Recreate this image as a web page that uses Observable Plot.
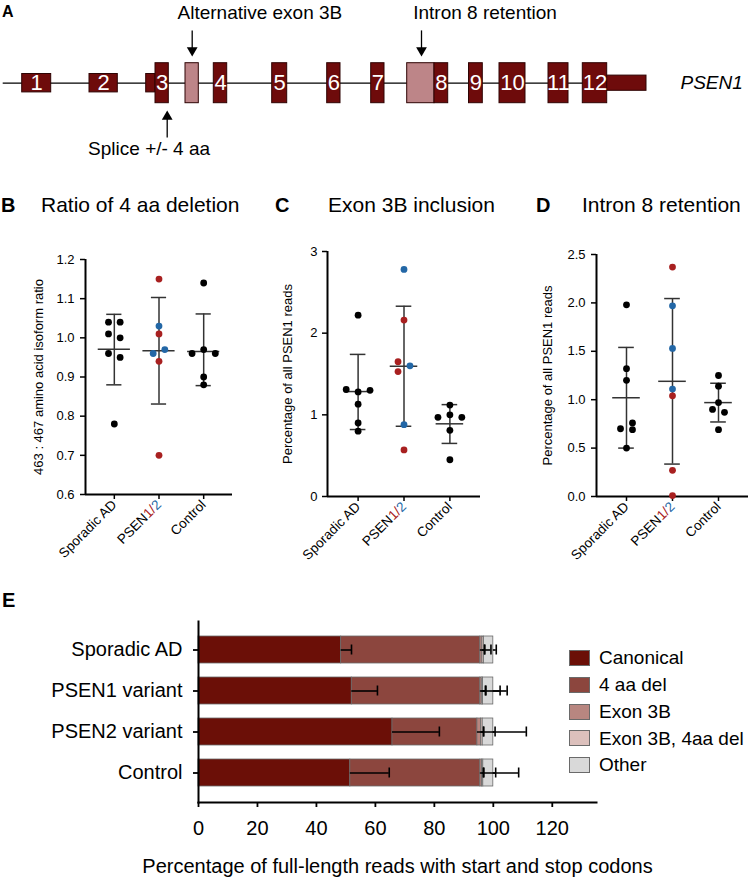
<!DOCTYPE html>
<html><head><meta charset="utf-8">
<script src="https://cdn.jsdelivr.net/npm/d3@7"></script>
<script src="https://cdn.jsdelivr.net/npm/@observablehq/plot@0.6"></script>
<style>
body{margin:0;background:#fff;font-family:"Liberation Sans",Arial,Helvetica,sans-serif;}
#fig{position:relative;width:750px;height:879px;overflow:hidden;background:#fff;}
.lbl{position:absolute;white-space:nowrap;line-height:1;color:#000;}
</style></head><body><div id="fig"></div>
<script>
const FONT = "'Liberation Sans', Arial, Helvetica, sans-serif";

// ---------- Panel A: PSEN1 gene schematic ----------
const exonLabel = ["1","2","","3","","4","5","6","7","","8","9","10","11","12",""];
const exonStart = [21.7,89,145.7,155,185,213.3,271.7,326.7,370.7,406.7,434,468.5,499,548,582.3,606.7];
const exonEnd   = [50.7,117.3,155,168.3,198.3,226.7,286.7,340,384,434,447.7,482.3,525,568,606.7,646];
const exonKind  = ["short","short","short","tall","alt","tall","tall","tall","tall","alt","tall","tall","tall","tall","tall","utr"];
const geneName = "PSEN1";
const annoText = ["Alternative exon 3B","Intron 8 retention","Splice +/- 4 aa"];
const annoArrowX = [191.7, 421, 166.7];
const annoTextX = [177, 412.7, 87.6];
const annoDir = ["down","down","up"];

// ---------- Panels B-D: per-sample values ----------
const groups = ["Sporadic AD","PSEN1/2","Control"];

const ratioValue = [1.04,1.04,1.01,1.00,0.96,0.95,0.78, 1.15,1.03,1.01,0.97,0.96,0.94,0.70, 1.14,0.97,0.96,0.96,0.90,0.88];
const ratioGroup = [0,0,0,0,0,0,0, 1,1,1,1,1,1,1, 2,2,2,2,2,2];
const ratioGene  = ["k","k","k","k","k","k","k", "r","b","r","b","b","r","r", "k","k","k","k","k","k"];
const ratioLane  = [-1,1,-1,1,-1,1,0, 0,0,0,1,-1,0,0, 0,0,-2,2,0,0];
const ratioMean = [0.971,0.967,0.965];
const ratioLow  = [0.880,0.831,0.878];
const ratioHigh = [1.060,1.103,1.061];

const exon3bValue = [2.22,1.31,1.30,1.28,1.13,0.90,0.80, 2.78,2.16,1.65,1.60,1.53,0.88,0.57, 1.12,1.00,0.97,0.97,0.81,0.45];
const exon3bGroup = [0,0,0,0,0,0,0, 1,1,1,1,1,1,1, 2,2,2,2,2,2];
const exon3bGene  = ["k","k","k","k","k","k","k", "b","r","r","b","r","b","r", "k","k","k","k","k","k"];
const exon3bLane  = [0,-2,2,0,0,0,0, 0,0,-1,1,-1,0,0, 0,0,-2,2,0,0];
const exon3bMean = [1.285,1.595,0.89];
const exon3bLow  = [0.82,0.86,0.65];
const exon3bHigh = [1.74,2.33,1.125];

const intronValue = [1.98,1.32,1.20,0.76,0.70,0.69,0.50, 2.37,1.97,1.53,1.11,1.04,0.27,0.01, 1.25,1.14,0.97,0.90,0.87,0.69];
const intronGroup = [0,0,0,0,0,0,0, 1,1,1,1,1,1,1, 2,2,2,2,2,2];
const intronGene  = ["k","k","k","k","k","k","k", "r","b","b","b","r","r","r", "k","k","k","k","k","k"];
const intronLane  = [0,0,0,1,-1,1,0, 0,0,0,0,0,0,0, 0,0,0,-1,1,0];
const intronMean = [1.02,1.19,0.97];
const intronLow  = [0.50,0.335,0.77];
const intronHigh = [1.54,2.045,1.17];

// ---------- Panel E: isoform shares ----------
const barGroups = ["Sporadic AD","PSEN1 variant","PSEN2 variant","Control"];
const isoforms = ["Canonical","4 aa del","Exon 3B","Exon 3B, 4aa del","Other"];
const canonical   = [48.4, 52.0, 65.8, 51.5];
const del4        = [47.2, 43.6, 28.8, 44.1];
const exon3B      = [0.7, 0.5, 1.2, 0.6];
const exon3Bdel   = [0.5, 0.4, 0.6, 0.4];
const other       = [3.2, 3.5, 3.6, 3.4];
const canonicalSd = [3.5, 8.7, 15.9, 13.2];
const del4Sd      = [3.6, 9.1, 16.6, 13.0];
const exon3BSd    = [0.7, 1.2, 0.9, 0.4];
const exon3BdelSd = [0.3, 1.0, 0.3, 0.2];
const otherSd     = [1.0, 2.3, 0.6, 0.8];

// ---------- styles ----------
const geneColor = {k:"#000000", r:"#a82020", b:"#2367a6"};
const isoColors = ["#6b0f07","#8c463e","#b88680","#dcc0bc","#d9d9d9"];
const exonHalf = {tall:1, alt:1, short:0.46, utr:0.38};
const exonFill = {tall:"#6e0b0b", short:"#6e0b0b", utr:"#6e0b0b", alt:"#bd8588"};

const fig = document.getElementById("fig");
function place(node, left, top){ node.style.position="absolute"; node.style.left=left+"px"; node.style.top=top+"px"; fig.appendChild(node); }
function label(text, left, top, size, weight){ const d=document.createElement("div"); d.className="lbl"; d.textContent=text; d.style.left=left+"px"; d.style.top=top+"px"; d.style.fontSize=size+"px"; d.style.fontWeight=weight||"normal"; fig.appendChild(d); return d; }

// ---------- Panel A ----------
{
  const exons = exonStart.map((s,i)=>({s, e: exonEnd[i], k: exonKind[i], t: exonLabel[i]}));
  const ann = annoText.map((t,i)=>({t, ax: annoArrowX[i], tx: annoTextX[i], dir: annoDir[i]}));
  // arrow geometry in schematic y units (1 unit = half of a full-height exon)
  const tail = d => d.dir === "down" ? 2.64 : -2.72;
  const head = d => d.dir === "down" ? 1.64 : -1.67;
  const txtY = d => d.dir === "down" ? 3.53 : -3.27;
  const A = Plot.plot({
    width:750, height:200, marginLeft:0, marginRight:0, marginTop:62.7, marginBottom:97.3,
    x:{domain:[0,750], axis:null}, y:{domain:[-1,1], axis:null},
    color:{type:"identity"},
    style:{fontFamily:FONT, background:"transparent", overflow:"visible"},
    marks:[
      Plot.ruleY([0], {x1: () => 2.7, x2: () => exonStart[exonStart.length-1], stroke:"#000", strokeWidth:1.3}),
      Plot.rect(exons, {x1:"s", x2:"e", y1: d=>-exonHalf[d.k], y2: d=>exonHalf[d.k], fill: d=>exonFill[d.k], stroke:"#2e0404", strokeWidth:1}),
      Plot.text(exons.filter(d=>d.t), {x: d=>(d.s+d.e)/2, y: () => 0, text:"t", fill:"#fff", fontSize:22, ariaLabel:"exon-number"}),
      Plot.text([geneName], {x: () => 680, y: () => 0, text: d=>d, textAnchor:"start", fontSize:19, fontStyle:"italic", fill:"#000"}),
      Plot.link(ann, {x1:"ax", x2:"ax", y1: tail, y2: head, stroke:"#000", strokeWidth:1.3}),
      Plot.dot(ann, {x:"ax", y: head, symbol:"triangle", r:4, fill:"#000", stroke:"none", rotate: d => d.dir === "down" ? 180 : 0}),
      Plot.text(ann, {x:"tx", y: txtY, text:"t", textAnchor:"start", fontSize:19, fill:"#000"})
    ]
  });
  // condensed exon numbers, as in the original schematic
  d3.select(A).selectAll('g[aria-label="exon-number"] text').each(function(){
    const tr = this.getAttribute("transform") || "";
    this.setAttribute("transform", tr + " scale(0.76,1)");
  });
  place(A, 0, 0);
}

// ---------- Panels B-D ----------
function dotPanel(cfg){
  const pts = cfg.value.map((v,i)=>({v, g: cfg.group[i], c: cfg.gene[i], lane: cfg.lane[i]}));
  const idx = [0,1,2];
  const jit = 0.13;
  const p = cfg.pad;
  const svg = Plot.plot({
    width:250, height:330, marginLeft:cfg.ml, marginRight:cfg.mr, marginTop:cfg.mt, marginBottom:cfg.mb,
    x:{domain:[-p, 2+p], axis:null},
    y:{domain:cfg.yDomain, axis:null},
    color:{type:"identity"},
    style:{fontFamily:FONT, background:"transparent", overflow:"visible", color:"#000"},
    marks:[
      Plot.axisY({ticks: cfg.yTicks, tickFormat: cfg.yFormat, tickSize:5, tickPadding:cfg.tp, fontSize:13, strokeWidth:1.5,
        label: cfg.yLabel, labelAnchor:"center", labelArrow:"none", labelOffset: cfg.lo}),
      Plot.axisX({ticks: idx, tickFormat: i => groups[i], tickRotate:-45, tickSize:5, tickPadding:3, fontSize:13.5, strokeWidth:1.5, label:null}),
      Plot.ruleX([-p], {strokeWidth:2, stroke:"#000"}),
      Plot.ruleY([cfg.yDomain[0]], {strokeWidth:2, stroke:"#000"}),
      Plot.ruleX(idx, {x: i=>i, y1: i=>cfg.low[i], y2: i=>cfg.high[i], stroke:"#333", strokeWidth:1.5}),
      Plot.ruleY(idx, {y: i=>cfg.mean[i], x1: i=>i-cfg.mw, x2: i=>i+cfg.mw, stroke:"#333", strokeWidth:1.5}),
      Plot.ruleY(idx, {y: i=>cfg.low[i], x1: i=>i-0.17, x2: i=>i+0.17, stroke:"#333", strokeWidth:1.5}),
      Plot.ruleY(idx, {y: i=>cfg.high[i], x1: i=>i-0.17, x2: i=>i+0.17, stroke:"#333", strokeWidth:1.5}),
      Plot.dot(pts, {x: d=>d.g + d.lane*jit, y:"v", r:3.4, fill: d=>geneColor[d.c], stroke:"none"})
    ]
  });
  // colour the "1" and "2" of PSEN1/2 tick label
  d3.select(svg).selectAll("text").filter(function(){ return this.textContent === "PSEN1/2"; }).each(function(){
    const t = d3.select(this); t.text("");
    t.append("tspan").text("PSEN");
    t.append("tspan").attr("fill", geneColor.r).text("1");
    t.append("tspan").attr("fill", geneColor.r).text("/");
    t.append("tspan").attr("fill", geneColor.b).text("2");
  });
  place(svg, cfg.left, 230);
}

dotPanel({value:ratioValue, group:ratioGroup, gene:ratioGene, lane:ratioLane, mean:ratioMean, low:ratioLow, high:ratioHigh,
  yDomain:[0.6,1.2], yTicks:[0.6,0.7,0.8,0.9,1.0,1.1,1.2], yFormat:d3.format(".1f"), yLabel:"463 : 467 amino acid isoform ratio",
  left:0, ml:85, mr:18, mt:29, mb:66, pad:0.645, mw:0.36, tp:6, lo:52});
dotPanel({value:exon3bValue, group:exon3bGroup, gene:exon3bGene, lane:exon3bLane, mean:exon3bMean, low:exon3bLow, high:exon3bHigh,
  yDomain:[0,3], yTicks:[0,1,2,3], yFormat:d3.format("d"), yLabel:"Percentage of all PSEN1 reads",
  left:250, ml:77, mr:20, mt:21, mb:64, pad:0.667, mw:0.3, tp:5, lo:45});
dotPanel({value:intronValue, group:intronGroup, gene:intronGene, lane:intronLane, mean:intronMean, low:intronLow, high:intronHigh,
  yDomain:[0,2.5], yTicks:[0,0.5,1,1.5,2,2.5], yFormat:d3.format(".1f"), yLabel:"Percentage of all PSEN1 reads",
  left:500, ml:96, mr:2, mt:24, mb:64, pad:0.652, mw:0.3, tp:6, lo:54});

// ---------- Panel E ----------
{
  const shares = [canonical, del4, exon3B, exon3Bdel, other];
  const sds = [canonicalSd, del4Sd, exon3BSd, exon3BdelSd, otherSd];
  const rows = [];
  barGroups.forEach((g,gi)=>{
    let cum = 0;
    isoforms.forEach((iso,k)=>{ const v = shares[k][gi]; cum += v; rows.push({g, iso, v, end: cum, tipX: cum + sds[k][gi]}); });
  });
  const E = Plot.plot({
    width:600, height:279, marginLeft:198, marginRight:4, marginTop:21, marginBottom:77,
    x:{domain:[0,135], axis:null},
    y:{domain:barGroups, paddingInner:0.33, paddingOuter:0.335, axis:null},
    color:{domain:isoforms, range:isoColors},
    style:{fontFamily:FONT, background:"transparent", overflow:"visible", color:"#000"},
    marks:[
      Plot.barX(rows, Plot.stackX({x:"v", y:"g", fill:"iso", stroke:"#6a6a6a", strokeWidth:0.8})),
      Plot.ruleY(rows, {y:"g", x1:"end", x2:"tipX", stroke:"#000", strokeWidth:1.6}),
      Plot.tickX(rows, {x:"tipX", y:"g", insetTop:8.5, insetBottom:8.5, stroke:"#000", strokeWidth:1.6}),
      Plot.axisX({ticks:[0,20,40,60,80,100,120], tickSize:5, tickPadding:13, fontSize:20, strokeWidth:1.8,
        label:"Percentage of full-length reads with start and stop codons", labelAnchor:"center", labelArrow:"none", labelOffset:70}),
      Plot.axisY({tickSize:5, tickPadding:11, fontSize:20, strokeWidth:1.8, label:null}),
      Plot.frame({anchor:"left", strokeWidth:2}),
      Plot.frame({anchor:"bottom", strokeWidth:2})
    ]
  });
  place(E, 0, 600);
  // legend
  isoforms.forEach((iso,k)=>{
    const top = 650 + k*26.8;
    const sw = document.createElement("div");
    sw.style.cssText = `position:absolute;left:569px;top:${top}px;width:19px;height:14px;background:${isoColors[k]};border:1px solid #6a6a6a;`;
    fig.appendChild(sw);
    label(iso, 599, top + 7.5 - 9.4, 19);
  });
}

// ---------- panel letters and titles ----------
label("A", 2, 4, 16, "bold");
label("B", 1, 194.5, 20, "bold");
label("Ratio of 4 aa deletion", 41, 194, 21);
label("C", 275, 194.5, 20, "bold");
label("Exon 3B inclusion", 328, 194, 21);
label("D", 536, 194.5, 20, "bold");
label("Intron 8 retention", 582, 194, 21);
label("E", 2, 590, 20, "bold");
</script></body></html>
